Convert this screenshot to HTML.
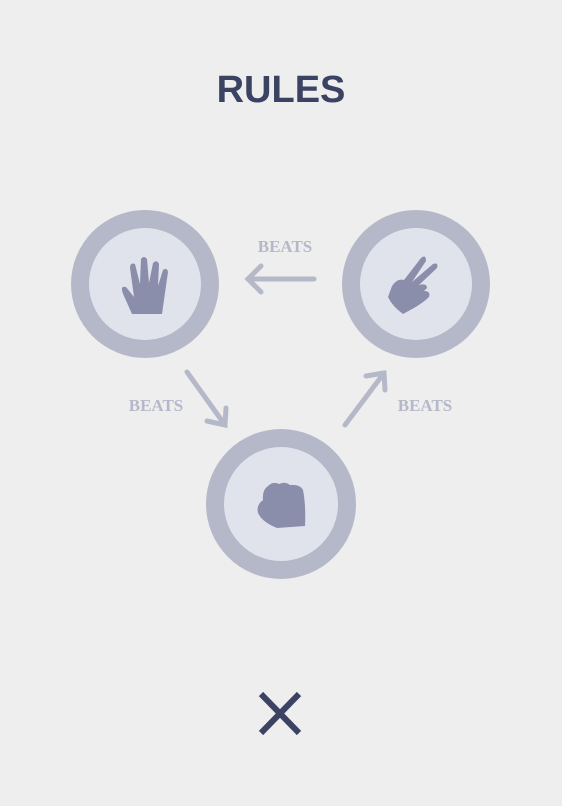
<!DOCTYPE html>
<html><head><style>
html,body{margin:0;padding:0;background:#eeeeee;width:562px;height:806px;overflow:hidden}
</style></head><body>
<svg width="562" height="806" viewBox="0 0 562 806" xmlns="http://www.w3.org/2000/svg">
<text x="281" y="102" text-anchor="middle" font-family="Liberation Sans, sans-serif" font-weight="bold" font-size="38" fill="#3b4262">RULES</text>
<g fill="#b5b8c8"><circle cx="145" cy="284" r="74"/><circle cx="416" cy="284" r="74"/><circle cx="281" cy="504" r="75"/></g>
<g fill="#e1e3ec"><circle cx="145" cy="284" r="56"/><circle cx="416" cy="284" r="56"/><circle cx="281" cy="504" r="57"/></g>
<g fill="#8a8eaa">
<path d="M132 314 L124 296 Q119 285 126 287 L134 297 L130 268 Q130 262 135 264 L140 284 L141 259 Q144 255 147 259 L149 283 L153 263 Q157 259 159 264 L158 286 L163 270 Q167 267 168 272 L164 300 L162 314 Z"/>
<path d="M403 314 Q392 306 388 297 L392 286 Q397 278 404 280 L421 258 Q426 254 426 261 L412 282 L433 264 Q439 262 437 268 L419 285 Q427 283 427 288 L424 291 Q431 291 429 297 Q424 302 414 308 Z"/>
<path d="M277 528 Q262 522 258 513 Q256 505 263 500 Q262 490 268 486 Q273 481 279 484 Q285 481 290 485 Q300 484 303 490 Q306 505 305 526 Z"/>
</g>
<g stroke="#b5b8c8" stroke-width="5" stroke-linecap="round" fill="none">
<line x1="314" y1="279" x2="248" y2="279"/><polyline points="261,266 248,279 261,292"/>
<line x1="187" y1="372" x2="225" y2="425"/><polyline points="207,421 225,425 226,408"/>
<line x1="345" y1="425" x2="384" y2="373"/><polyline points="366,376 384,373 385,390"/>
</g>
<g font-family="Liberation Serif, serif" font-weight="bold" font-size="17" fill="#b5b8c8" text-anchor="middle">
<text x="285" y="252">BEATS</text><text x="156" y="411">BEATS</text><text x="425" y="411">BEATS</text>
</g>
<g stroke="#3b4262" stroke-width="6"><line x1="261" y1="694" x2="299" y2="733"/><line x1="299" y1="694" x2="261" y2="733"/></g>
</svg>
</body></html>
